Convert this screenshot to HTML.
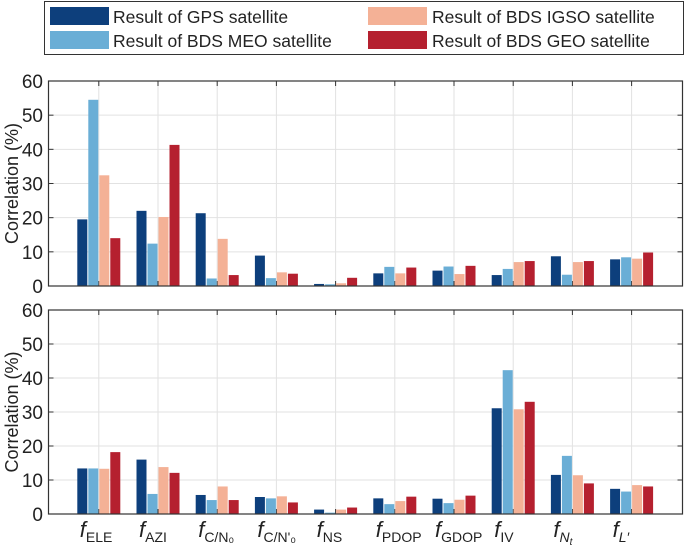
<!DOCTYPE html>
<html><head><meta charset="utf-8"><style>
body{margin:0;background:#fff;}
svg text{font-family:"Liberation Sans",Arial,sans-serif;fill:#222;}
</style></head><body>
<svg id="chart" width="685" height="550" xmlns="http://www.w3.org/2000/svg">
<g>
<rect x="44.5" y="1.5" width="639" height="53" fill="#fff" stroke="#333" stroke-width="1"/>
<rect x="50" y="7" width="59" height="18" fill="#0d3f7c"/>
<text x="113" y="23" font-size="17.5">Result of GPS satellite</text>
<rect x="50" y="31" width="59" height="18" fill="#6aaed6"/>
<text x="113" y="47" font-size="17.5">Result of BDS MEO satellite</text>
<rect x="368" y="7" width="59" height="18" fill="#f4b196"/>
<text x="432" y="23" font-size="17.5">Result of BDS IGSO satellite</text>
<rect x="368" y="31" width="59" height="18" fill="#b5202f"/>
<text x="432" y="47" font-size="17.5">Result of BDS GEO satellite</text>
</g>
</svg>
<script>
const categories=["ELE","AZI","CN0","CN0p","NS","PDOP","GDOP","IV","Nt","L"];
const yTicks=[0,10,20,30,40,50,60];
const topGPS=[19.5,22,21.3,8.9,0.6,3.7,4.5,3.2,8.7,7.8];
const topMEO=[54.5,12.4,2.2,2.3,0.5,5.6,5.7,5.0,3.3,8.4];
const topIGSO=[32.4,20.2,13.8,4.0,0.8,3.7,3.5,7.0,7.0,8.0];
const topGEO=[14,41.3,3.2,3.6,2.4,5.4,5.9,7.3,7.3,9.8];
const botGPS=[13.4,16,5.6,5.0,1.3,4.6,4.5,31.1,11.5,7.4];
const botMEO=[13.4,5.9,4.1,4.6,0.4,2.9,3.2,42.3,17.1,6.6];
const botIGSO=[13.3,13.8,8.1,5.2,1.3,3.8,4.2,30.8,11.4,8.5];
const botGEO=[18.2,12.1,4.1,3.4,1.9,5.1,5.4,33.0,9.0,8.1];

const NS='http://www.w3.org/2000/svg';
const svg=document.getElementById('chart');
const colors=['#0d3f7c','#6aaed6','#f4b196','#b5202f'];
const L=48.5,R=682.5;
function xC(i){return 98.8+i*59.2;}
function mk(tag,attrs,parent){const e=document.createElementNS(NS,tag);for(const k in attrs)e.setAttribute(k,attrs[k]);(parent||svg).appendChild(e);return e;}
function panel(name,top,bottom,series){
  const g=mk('g',{});
  
  
  const y=v=>bottom-(v/60)*(bottom-top);
  yTicks.forEach(t=>{
    if(t>0&&t<60){const gl=mk('line',{x1:L,x2:R,y1:y(t),y2:y(t),stroke:'#e2e2e2','stroke-width':1},g);
    }
    const tx=mk('text',{x:43,y:y(t)+7,'font-size':19,'text-anchor':'end'},g);
    
    
    tx.textContent=t;
    mk('line',{x1:L,x2:L+5,y1:y(t),y2:y(t),stroke:'#333'},g);
    mk('line',{x1:R,x2:R-5,y1:y(t),y2:y(t),stroke:'#333'},g);
  });
  categories.forEach((c,i)=>{
    const gl=mk('line',{x1:xC(i),x2:xC(i),y1:top,y2:bottom,stroke:'#e2e2e2'},g);
    
    mk('line',{x1:xC(i),x2:xC(i),y1:top,y2:top+5,stroke:'#333'},g);
    mk('line',{x1:xC(i),x2:xC(i),y1:bottom,y2:bottom-5,stroke:'#333'},g);
    series.forEach((s,k)=>{
      const v=s[i];
      const r=mk('rect',{x:xC(i)-21.5+k*11,y:y(v),width:10,height:bottom-y(v),fill:colors[k]},g);
      
      
    });
  });
  const box=mk('rect',{x:L,y:top,width:R-L,height:bottom-top,fill:'none',stroke:'#333','stroke-width':1.2},g);
  
  const yl=mk('text',{x:0,y:0,'font-size':18,'text-anchor':'middle',transform:`translate(18,${(top+bottom)/2}) rotate(-90)`},g);
  
  
  yl.textContent='Correlation (%)';
}
panel('top-panel',81,286,[topGPS,topMEO,topIGSO,topGEO]);
panel('bottom-panel',310,514,[botGPS,botMEO,botIGSO,botGEO]);
const subs=['ELE','AZI','C/N₀',"C/N'₀",'NS','PDOP','GDOP','IV','N','L′'];
categories.forEach((c,i)=>{
  const t=mk('text',{x:xC(i)-19,y:537,'font-size':22},svg);
  
  
  const f=mk('tspan',{'font-style':'italic'},t);f.textContent='f';
  const s=mk('tspan',{'font-size':14,dy:5,'font-style':(c==='Nt'||c==='L')?'italic':'normal'},t);
  s.textContent=subs[i];
  if(c==='Nt'){const s2=mk('tspan',{'font-size':10,dy:3,'font-style':'italic'},t);s2.textContent='t';}
});
</script>
</body></html>
